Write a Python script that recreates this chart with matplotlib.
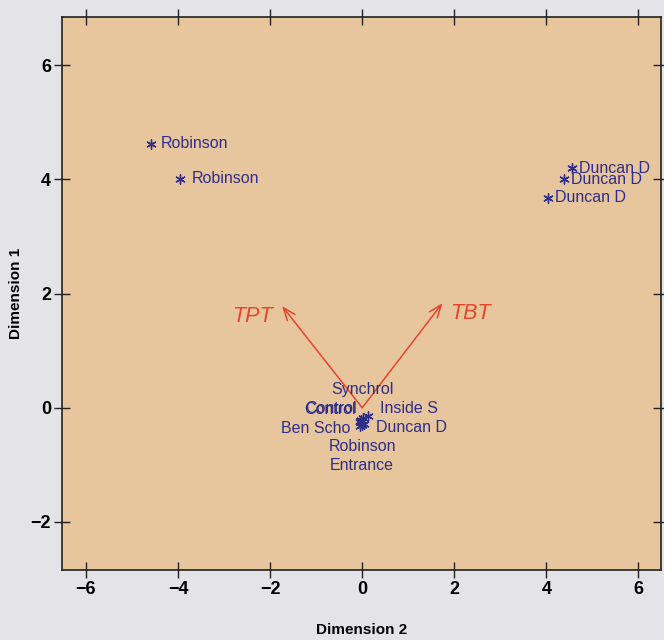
import matplotlib
matplotlib.use("Agg")
import matplotlib.pyplot as plt

# Site scores on the first two dimensions
dim2 = [-4.58, -3.95, 4.56, 4.38, 4.03,
        0.02, -0.05, -0.04, 0.12, -0.04, 0.03, 0.00, -0.02]
dim1 = [4.62, 4.01, 4.19, 4.00, 3.68,
        -0.18, -0.25, -0.24, -0.15, -0.32, -0.28, -0.30, -0.22]
sites = ["Robinson", "Robinson", "Duncan D", "Duncan D", "Duncan D",
         "Synchrol", "Control", "Control", "Inside S", "Ben Scho",
         "Duncan D", "Robinson", "Entrance"]
# label placement (pixel offsets, alignment) for each site
label_dx = [9, 11, 7, 7, 7, -1, -30, -29, 12, -10, 12, 0, 0]
label_dy = [0, 0, 0, 0, 0, 29, 13, 13, 8, -2, -4, -22, -45]
label_ha = ["left"] * 5 + ["center", "center", "center", "left", "right",
                           "left", "center", "center"]

# Environmental vectors
vectors = ["TPT", "TBT"]
vec_x = [-1.74, 1.74]
vec_y = [1.78, 1.83]

bg = "#e4e4e8"
panel = "#e7c59d"
ink = "#2e2e8a"
red = "#e8442c"
sans = ["Liberation Sans", "DejaVu Sans"]

fig = plt.figure(figsize=(6.64, 6.40), dpi=100, facecolor=bg)
ax = fig.add_axes([0.0934, 0.1094, 0.9021, 0.864])
ax.set_facecolor(panel)
ax.set_xlim(-6.52, 6.49)
ax.set_ylim(-2.84, 6.84)

ax.scatter(dim2, dim1, marker=(6, 2, 0), s=45, color=ink, linewidths=1.0, zorder=3)
for x, y, s, dx, dy, ha in zip(dim2, dim1, sites, label_dx, label_dy, label_ha):
    ax.annotate(s, (x, y), xytext=(dx, dy), textcoords="offset pixels",
                ha=ha, va="center", color=ink, fontsize=11.5, family=sans,
                zorder=4)

for name, x, y in zip(vectors, vec_x, vec_y):
    ax.annotate("", xy=(x, y), xytext=(0, 0),
                arrowprops=dict(arrowstyle="->,head_length=0.9,head_width=0.35",
                                color=red, lw=1.1, shrinkA=0, shrinkB=0),
                zorder=2)
    ax.annotate(name, (x, y), xytext=(-30 if x < 0 else 28, -10),
                textcoords="offset pixels", ha="center", va="center",
                color=red, fontsize=15.5, style="italic", family=sans)

ticks_x = [-6, -4, -2, 0, 2, 4, 6]
ticks_y = [-2, 0, 2, 4, 6]
ax.set_xticks(ticks_x)
ax.set_yticks(ticks_y)
ax.set_xticklabels(["\u22126", "\u22124", "\u22122", "0", "2", "4", "6"])
ax.set_yticklabels(["\u22122", "0", "2", "4", "6"])
ax.tick_params(direction="inout", length=12, width=1.0, color="#222222",
               top=True, right=True, labelsize=13, pad=2)
for lab in ax.get_xticklabels() + ax.get_yticklabels():
    lab.set_fontweight("bold")
    lab.set_family("Liberation Sans")
for sp in ax.spines.values():
    sp.set_color("#222222")
    sp.set_linewidth(1.2)

ax.set_xlabel("Dimension 2", fontsize=11, fontweight="bold",
              family="Liberation Sans", labelpad=18)
ax.set_ylabel("Dimension 1", fontsize=11, fontweight="bold",
              family="Liberation Sans", labelpad=5)

fig.savefig("out.png", dpi=100, facecolor=bg)
